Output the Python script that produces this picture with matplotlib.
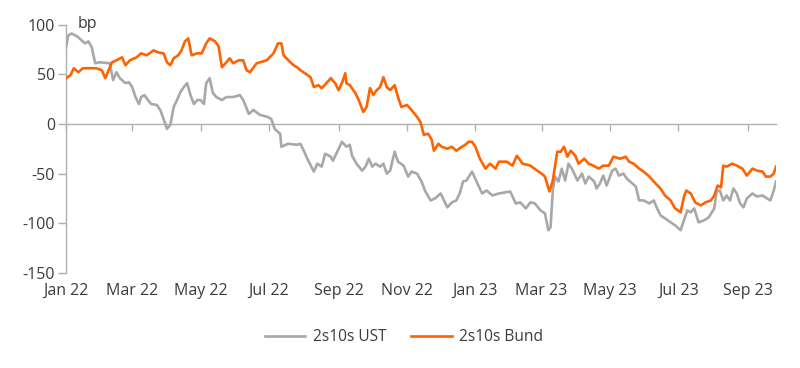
import matplotlib
matplotlib.use("Agg")
import matplotlib.pyplot as plt
import pandas as pd

# Data: days since 2022-01-01 and spread in bp
base_date = "2022-01-01"

ust_days = [0, 2, 5, 10, 14, 17, 20, 23, 26, 30, 39, 42, 45, 48, 53, 56, 59, 62, 65, 67,
            70, 73, 76, 81, 84, 87, 90, 93, 96, 99, 102, 105, 108, 111, 114, 117, 120, 123,
            125, 128, 131, 134, 139, 143, 149, 155, 158, 163, 167, 173, 180, 183, 186, 191,
            192, 198, 206, 209, 212, 216, 221, 224, 228, 231, 236, 238, 243, 246, 250, 253,
            255, 259, 264, 267, 270, 273, 276, 280, 283, 286, 289, 293, 296, 301, 305, 308,
            313, 317, 320, 325, 329, 334, 337, 340, 344, 348, 351, 354, 357, 362, 366, 371,
            375, 380, 386, 396, 401, 405, 410, 414, 418, 423, 427, 430, 432, 434, 436, 439,
            442, 445, 448, 451, 456, 460, 463, 466, 471, 473, 476, 479, 482, 487, 490, 493,
            497, 500, 503, 508, 511, 515, 520, 524, 527, 530, 534, 539, 543, 548, 550, 554,
            557, 560, 564, 569, 573, 578, 580, 583, 586, 589, 592, 595, 598, 601, 604, 607,
            612, 616, 621, 625, 628, 631, 633]
ust_vals = [77, 89, 91, 88, 84, 81, 83, 77, 61, 62, 61, 44, 52, 46, 41, 42, 37, 27, 20, 27,
            29, 24, 20, 19, 14, 5, -5, -1, 17, 24, 32, 37, 41, 29, 20, 24, 24, 20,
            41, 46, 31, 27, 24, 27, 27, 29, 24, 10, 14, 9, 7, 5, -5, -10,
            -23, -20, -21, -20, -27, -37, -48, -40, -43, -30, -33, -37, -25, -18, -23, -21,
            -32, -40, -47, -43, -35, -43, -40, -43, -40, -50, -47, -28, -38, -42, -53, -48,
            -50, -58, -67, -77, -75, -70, -77, -84, -79, -77, -70, -58, -57, -48, -58, -70,
            -67, -72, -70, -68, -80, -79, -85, -79, -80, -87, -90, -107, -104, -67, -53, -58,
            -45, -57, -40, -45, -57, -50, -60, -53, -58, -65, -60, -52, -62, -47, -45, -52,
            -50, -55, -58, -63, -77, -77, -80, -77, -85, -92, -95, -99, -102, -107, -100, -87,
            -89, -85, -99, -97, -94, -85, -68, -67, -77, -72, -77, -65, -70, -80, -84, -75,
            -70, -73, -72, -75, -77, -67, -58]

bund_days = [0, 4, 7, 11, 15, 21, 27, 32, 35, 38, 41, 45, 50, 53, 57, 63, 67, 72, 78, 82,
             87, 90, 93, 96, 100, 103, 106, 109, 112, 117, 121, 125, 128, 133, 136, 139, 143,
             146, 149, 154, 158, 161, 164, 170, 179, 185, 189, 192, 194, 200, 203, 206, 209,
             213, 218, 221, 225, 228, 233, 236, 240, 243, 246, 249, 250, 253, 258, 261, 265,
             268, 271, 274, 277, 280, 283, 286, 289, 293, 296, 299, 304, 308, 313, 316, 319,
             323, 326, 328, 332, 335, 340, 344, 348, 353, 356, 359, 362, 365, 369, 374, 378,
             383, 386, 393, 398, 402, 407, 414, 420, 424, 427, 431, 434, 438, 441, 444, 447,
             450, 454, 457, 462, 466, 470, 475, 479, 484, 488, 494, 499, 502, 506, 511, 515,
             520, 524, 530, 534, 539, 543, 548, 551, 553, 557, 561, 566, 570, 575, 578, 581,
             584, 586, 589, 594, 598, 603, 607, 612, 616, 621, 624, 628, 631, 633]
bund_vals = [46, 49, 56, 52, 56, 56, 56, 54, 46, 54, 62, 64, 67, 59, 64, 67, 71, 69, 74, 72,
             71, 62, 59, 66, 69, 74, 83, 86, 69, 71, 71, 81, 86, 83, 78, 57, 62,
             66, 61, 64, 64, 54, 52, 61, 64, 71, 81, 81, 69, 62, 59, 57, 54,
             51, 47, 37, 39, 36, 42, 46, 41, 34, 41, 51, 41, 39, 31, 24, 12,
             17, 36, 29, 34, 37, 47, 37, 34, 39, 27, 17, 19, 14, 7, 2, -11,
             -10, -16, -27, -20, -23, -25, -23, -27, -23, -21, -18, -18, -23, -35, -45, -40,
             -45, -38, -38, -42, -32, -40, -42, -47, -50, -53, -68, -57, -28, -28, -23, -33,
             -27, -32, -40, -35, -40, -42, -45, -42, -42, -33, -35, -33, -38, -40, -45, -48,
             -53, -58, -65, -72, -77, -85, -89, -73, -67, -70, -79, -82, -79, -77, -72, -62,
             -64, -42, -43, -40, -42, -45, -52, -45, -47, -48, -53, -53, -50, -43]

series_labels = ["2s10s UST", "2s10s Bund"]
x_tick_labels = ["Jan 22", "Mar 22", "May 22", "Jul 22", "Sep 22", "Nov 22",
                 "Jan 23", "Mar 23", "May 23", "Jul 23", "Sep 23"]
y_ticks = [-150, -100, -50, 0, 50, 100]
unit_label = "bp"

# Build dates
t0 = pd.Timestamp(base_date)
ust_dates = t0 + pd.to_timedelta(ust_days, unit="D")
bund_dates = t0 + pd.to_timedelta(bund_days, unit="D")
tick_dates = pd.date_range("2022-01-01", periods=len(x_tick_labels), freq="2MS")

plt.rcParams["font.family"] = ["Open Sans", "DejaVu Sans"]
text_color = "#3c3c3c"
grey = "#a8a8a8"
orange = "#ff6200"
axis_grey = "#b0b0b0"

fig = plt.figure(figsize=(8, 3.68), dpi=100)
ax = fig.add_axes([0.0825, 0.2582, 0.8875, 0.6752])

ax.plot(ust_dates, ust_vals, color=grey, lw=1.9, label=series_labels[0], zorder=3)
ax.plot(bund_dates, bund_vals, color=orange, lw=1.9, label=series_labels[1], zorder=4)

ax.set_ylim(-150, 100)
ax.set_xlim(t0, t0 + pd.Timedelta(days=633))
ax.set_yticks(y_ticks)
ax.set_yticklabels([str(v) for v in y_ticks])

for s in ["top", "right"]:
    ax.spines[s].set_visible(False)
ax.spines["left"].set_color(axis_grey)
ax.spines["left"].set_linewidth(1.0)
ax.spines["bottom"].set_position(("data", 0))
ax.spines["bottom"].set_color(axis_grey)
ax.spines["bottom"].set_linewidth(1.0)

ax.tick_params(axis="y", length=6, width=1, color=axis_grey, labelsize=11.5,
               labelcolor=text_color, pad=2)
ax.set_xticks(tick_dates)
ax.tick_params(axis="x", length=5, width=1, color=axis_grey, labelbottom=False)

xt = ax.get_xaxis_transform()
for d, lab in zip(tick_dates, x_tick_labels):
    ax.text(d, -0.04, lab, transform=xt, ha="center", va="top",
            fontsize=11.5, color=text_color)

ax.text(0.017, 0.984, unit_label, transform=ax.transAxes, ha="left", va="baseline",
        fontsize=11.5, color=text_color)

leg = fig.legend(loc="center", bbox_to_anchor=(0.505, 1 - 337 / 368), ncol=2,
                 frameon=False, fontsize=11.2, handlelength=2.6, handletextpad=0.5,
                 columnspacing=1.6)
for t in leg.get_texts():
    t.set_color(text_color)

fig.savefig("out.png", dpi=100)
